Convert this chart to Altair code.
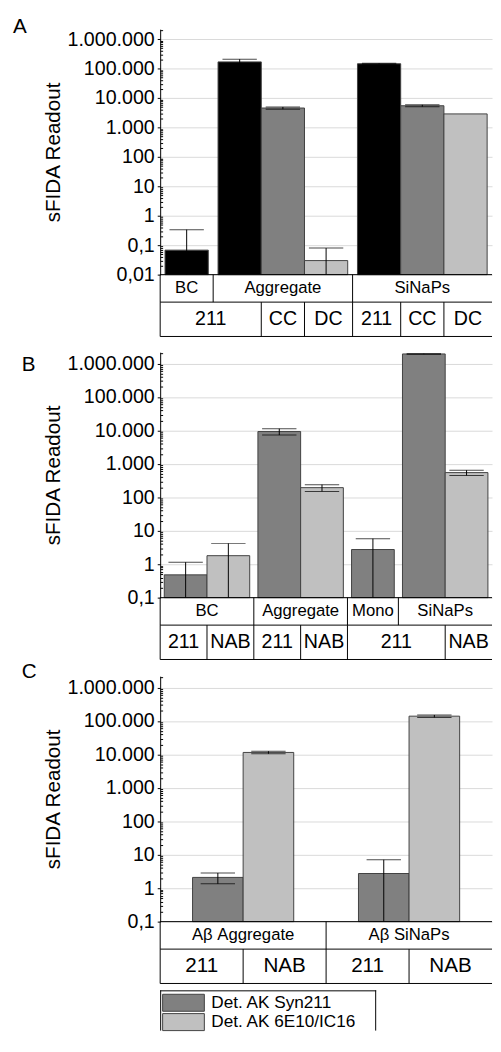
import altair as alt
import pandas as pd

FONT = "Liberation Sans"
YMAX = 2.2e6

# ---------------- data ----------------
# Panel A
a_group = ["BC", "Aggregate", "Aggregate", "Aggregate", "SiNaPs", "SiNaPs", "SiNaPs"]
a_det = ["211", "211", "CC", "DC", "211", "CC", "DC"]
a_mean = [0.068, 170000, 4600, 0.03, 147000, 5500, 2900]
a_sd = [0.27, 40000, 400, 0.05, 5000, 400, 0]

# Panel B
b_group = ["BC", "BC", "Aggregate", "Aggregate", "Mono", "SiNaPs", "SiNaPs"]
b_det = ["211", "NAB", "211", "NAB", "211", "211", "NAB"]
b_mean = [0.48, 1.8, 9300, 195, 2.75, 1950000, 550]
b_sd = [0.67, 2.4, 2000, 45, 3.05, 30000, 100]

# Panel C
c_group = ["Aβ Aggregate", "Aβ Aggregate", "Aβ SiNaPs", "Aβ SiNaPs"]
c_det = ["211", "NAB", "211", "NAB"]
c_mean = [2.1, 11500, 2.75, 140000]
c_sd = [0.75, 1000, 4.35, 12000]

legend_labels = ["Det. AK Syn211", "Det. AK 6E10/IC16"]
y_tick_values = [0.01, 0.1, 1, 10, 100, 1000, 10000, 100000, 1000000]

BLACK = "#000000"
DARK = "#808080"
LIGHT = "#c0c0c0"

PLOT_W = 338
PLOT_H = 250


def build_layout(groups, det, mean, sd, pad, ymin):
    bars = []
    spans = {}
    order = []
    pos = 0.0
    for i, (g, d, m, s) in enumerate(zip(groups, det, mean, sd)):
        if i == 0 or g != groups[i - 1]:
            if order:
                pos += pad
                spans[order[-1]][1] = pos
            spans[g] = [pos, None]
            order.append(g)
            pos += pad
        lo = m - s
        bars.append(dict(group=g, det=d, mean=m, sd=s, hi=m + s, lo=lo,
                         lo_c=lo if lo > ymin else ymin,
                         showlo=bool(lo > ymin and s > 0),
                         x0=pos, x1=pos + 1, xc=pos + 0.5))
        pos += 1
    pos += pad
    spans[order[-1]][1] = pos
    total = pos
    row1 = pd.DataFrame([dict(label=g, left=spans[g][0],
                              center=(spans[g][0] + spans[g][1]) / 2) for g in order])
    cells = []
    n = len(bars)
    for i, b in enumerate(bars):
        first = i == 0 or groups[i] != groups[i - 1]
        last = i == n - 1 or groups[i] != groups[i + 1]
        l = spans[b["group"]][0] if first else b["x0"]
        r = spans[b["group"]][1] if last else b["x1"]
        if cells and cells[-1][0] == b["det"]:
            cells[-1][2] = r
        else:
            cells.append([b["det"], l, r])
    row2 = pd.DataFrame([dict(label=c[0], left=c[1], center=(c[1] + c[2]) / 2) for c in cells])
    return pd.DataFrame(bars), row1, row2, total


def row_chart(df, total, height, fsize):
    xs = alt.Scale(domain=[0, total], nice=False, zero=False)
    base = alt.Chart(df)
    rules = base.mark_rule(color="black", strokeWidth=1).encode(
        x=alt.X("left:Q", scale=xs, axis=None)
    )
    bottom = alt.Chart(pd.DataFrame({"edge": ["bottom"]})).mark_rule(
        color="black", strokeWidth=1).encode(y=alt.value(height))
    text = base.mark_text(font=FONT, fontSize=fsize, color="black").encode(
        x=alt.X("center:Q", scale=xs, axis=None),
        text="label:N",
    )
    return alt.layer(rules, bottom, text).properties(width=PLOT_W, height=height)


def make_panel(letter, letter_x, letter_y, gap, groups, det, mean, sd, pad, ymin,
               cdomain, crange, r2size):
    bars, row1, row2, total = build_layout(groups, det, mean, sd, pad, ymin)
    h = PLOT_H + gap
    xs = alt.Scale(domain=[0, total], nice=False, zero=False)
    ys = alt.Scale(type="log", domain=[ymin, YMAX], nice=False, range=[h, gap])
    ticks = [t for t in y_tick_values if t >= ymin]
    minor = [m * t for t in ticks for m in range(2, 10) if m * t < YMAX]
    base = alt.Chart(bars)
    rects = base.mark_rect(stroke="#404040", strokeWidth=1).encode(
        x=alt.X("x0:Q", scale=xs, axis=None),
        x2="x1:Q",
        y=alt.Y("mean:Q", scale=ys,
                axis=alt.Axis(orient="left", values=ticks, format=",~f",
                              labelFont=FONT, labelFontSize=20, labelColor="black",
                              labelPadding=3, labelOverlap=False,
                              tickColor="black", tickSize=3, tickWidth=1,
                              domainColor="black", domainWidth=1,
                              grid=True, gridColor="#d9d9d9", gridWidth=1,
                              title="sFIDA Readout", titleFont=FONT, titleFontSize=21,
                              titleFontWeight="normal", titleColor="black",
                              titlePadding=4)),
        y2=alt.datum(ymin),
        color=alt.Color("det:N", scale=alt.Scale(domain=cdomain, range=crange), legend=None),
    )
    baseline = alt.Chart(pd.DataFrame({"edge": ["base"]})).mark_rule(
        color="black", strokeWidth=1).encode(
        y=alt.YDatum(ymin, scale=ys, axis=None))
    errs = base.transform_filter("datum.sd > 0")
    err = errs.mark_rule(color="black", strokeWidth=1, clip=True).encode(
        x=alt.X("xc:Q", scale=xs, axis=None),
        y=alt.Y("hi:Q", scale=ys, axis=None),
        y2="lo_c:Q",
    )
    cap_hi = errs.mark_tick(orient="horizontal", size=35, thickness=1, color="black").encode(
        x=alt.X("xc:Q", scale=xs, axis=None),
        y=alt.Y("hi:Q", scale=ys,
                axis=alt.Axis(orient="left", values=minor, offset=-2.5, tickSize=2.5,
                              tickColor="black", tickWidth=1, domain=False,
                              labels=False, grid=False, title=None)),
    )
    cap_lo = base.transform_filter("datum.showlo").mark_tick(
        orient="horizontal", size=35, thickness=1, color="black").encode(
        x=alt.X("xc:Q", scale=xs, axis=None),
        y=alt.Y("lo:Q", scale=ys, axis=None),
    )
    lab = alt.Chart(pd.DataFrame({"letter": [letter]})).mark_text(
        align="left", baseline="alphabetic", font=FONT, fontSize=21, color="black"
    ).encode(text="letter:N", x=alt.value(letter_x), y=alt.value(gap + letter_y))
    plot = alt.layer(rects, baseline, err, cap_hi, cap_lo, lab).resolve_axis(
        y="independent").properties(width=PLOT_W, height=h)
    r1 = row_chart(row1, total, 28, 17)
    r2 = row_chart(row2, total, 35, r2size)
    return [plot, r1, r2]


panel_a = make_panel("A", -150, 4, 0, a_group, a_det, a_mean, a_sd, 0.113, 0.01,
                     ["211", "CC", "DC"], [BLACK, DARK, LIGHT], 20)
panel_b = make_panel("B", -141, 19, 16, b_group, b_det, b_mean, b_sd, 0.096, 0.1,
                     ["211", "NAB"], [DARK, LIGHT], 20)
panel_c = make_panel("C", -141, 2, 17, c_group, c_det, c_mean, c_sd, 0.64, 0.1,
                     ["211", "NAB"], [DARK, LIGHT], 21)

# ---------------- legend (boxed, below panel C, cut by the page bottom) ----------------
LEG_GAP = 7
LEG_W = 220
LEG_H = 48
leg_df = pd.DataFrame({"label": legend_labels})
edge_df = pd.DataFrame({"edge": ["box"]})
leg_y = alt.Y("label:N", scale=alt.Scale(domain=legend_labels, range=[LEG_GAP + 4, LEG_H],
                                         paddingInner=0.12, paddingOuter=0), axis=None)
box_top = alt.Chart(edge_df).mark_rule(color="black", strokeWidth=1).encode(
    y=alt.value(LEG_GAP + 0.5))
box_left = alt.Chart(edge_df).mark_rule(color="black", strokeWidth=1).encode(
    x=alt.value(0.5), y=alt.value(LEG_GAP), y2=alt.value(LEG_H))
box_right = alt.Chart(edge_df).mark_rule(color="black", strokeWidth=1).encode(
    x=alt.value(LEG_W - 0.5), y=alt.value(LEG_GAP), y2=alt.value(LEG_H))
sw = alt.Chart(leg_df).mark_rect(stroke="#404040", strokeWidth=1).encode(
    x=alt.value(2.5), x2=alt.value(45), y=leg_y,
    color=alt.Color("label:N", scale=alt.Scale(domain=legend_labels, range=[DARK, LIGHT]),
                    legend=None),
)
lt = alt.Chart(leg_df).mark_text(align="left", baseline="middle", font=FONT,
                                 fontSize=17.5, color="black").encode(
    x=alt.value(52), y=leg_y, text="label:N")
legend = alt.layer(box_top, box_left, box_right, sw, lt).properties(width=LEG_W, height=LEG_H)

chart = alt.vconcat(*(panel_a + panel_b + panel_c), legend, spacing=0,
                    bounds="flush").resolve_scale(color="independent").properties(
    padding={"left": 5, "top": -1, "right": 0, "bottom": -1},
).configure_view(stroke=None)

chart.save("out.html", embed_options={
    "renderer": "svg", "actions": False,
    "formatLocale": {"decimal": ",", "thousands": ".", "grouping": [3],
                     "currency": ["", "\u00a0€"]},
})
